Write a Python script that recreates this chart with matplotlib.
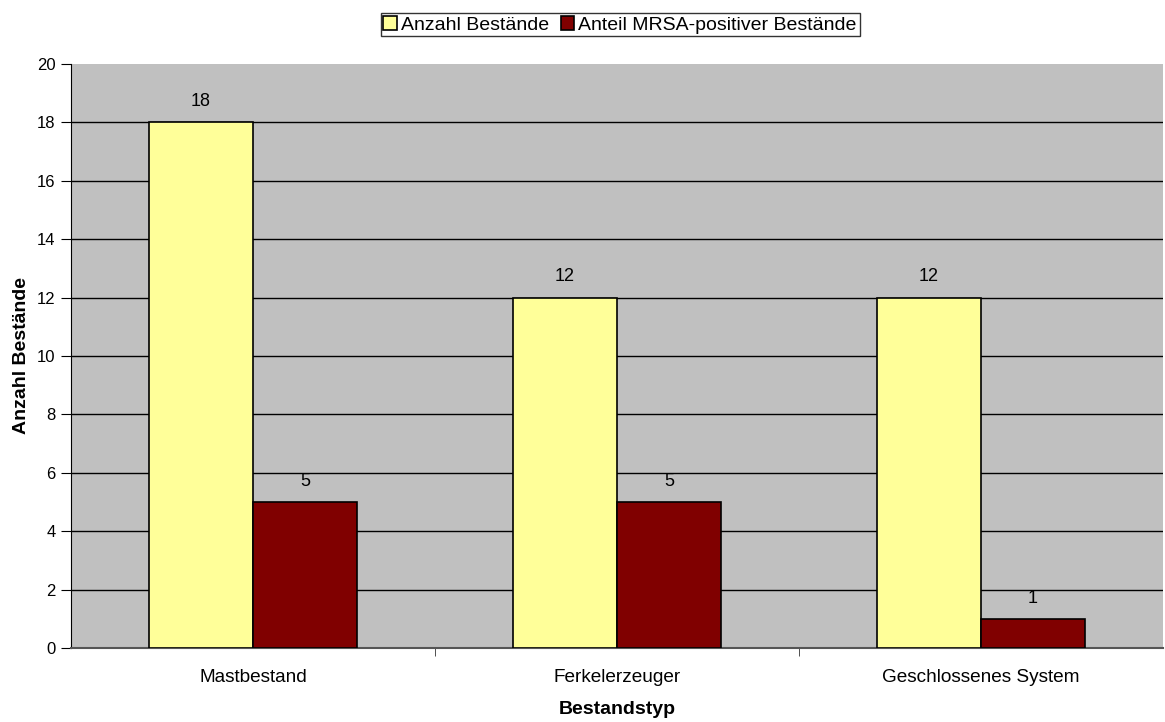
import matplotlib.pyplot as plt
import numpy as np

plt.rcParams['font.family'] = ['Liberation Sans', 'DejaVu Sans']

categories = ['Mastbestand', 'Ferkelerzeuger', 'Geschlossenes System']
anzahl = [18, 12, 12]
mrsa = [5, 5, 1]
series_names = ['Anzahl Bestände', 'Anteil MRSA-positiver Bestände']

fig = plt.figure(figsize=(11.65, 7.22), dpi=100)
ax = fig.add_axes([71 / 1165, 74 / 722, 1092 / 1165, 584 / 722])
ax.set_facecolor('#C0C0C0')

x = np.arange(len(categories))
w = 104 / 364
b1 = ax.bar(x - w / 2, anzahl, w, color='#FFFF99', edgecolor='black', linewidth=1.2,
            label=series_names[0], zorder=3)
b2 = ax.bar(x + w / 2, mrsa, w, color='#800000', edgecolor='black', linewidth=1.2,
            label=series_names[1], zorder=3)

for bars in (b1, b2):
    for r in bars:
        ax.text(r.get_x() + r.get_width() / 2, r.get_height() + 0.42, str(int(r.get_height())),
                ha='center', va='bottom', fontsize=13)

ax.set_xlim(-0.5, 2.5)
ax.set_ylim(0, 20)
ax.set_yticks(range(0, 21, 2))
ax.yaxis.grid(True, color='black', linewidth=1)
ax.get_ygridlines()[-1].set_visible(False)
ax.set_axisbelow(True)

ax.set_xticks(x)
ax.set_xticklabels(categories, fontsize=13.7)
ax.tick_params(axis='x', length=0, pad=15)
ax.set_xticks([0.5, 1.5], minor=True)
ax.tick_params(axis='x', which='minor', length=6, direction='out', color='#333333')
ax.tick_params(axis='y', length=7, direction='out', labelsize=12, pad=4)

for s in ('top', 'right'):
    ax.spines[s].set_visible(False)
ax.spines['left'].set_color('black')
ax.spines['bottom'].set_color('#555555')
ax.spines['bottom'].set_linewidth(1.5)

ax.set_xlabel('Bestandstyp', fontsize=14, fontweight='bold', labelpad=11)
ax.set_ylabel('Anzahl Bestände', fontsize=14, fontweight='bold', labelpad=5)

fig.legend(loc='upper center', bbox_to_anchor=(620 / 1165, 1 - 13 / 722), ncol=2,
           fontsize=14, frameon=True, fancybox=False, edgecolor='black',
           handlelength=0.7, handleheight=0.7, handletextpad=0.2, columnspacing=0.6,
           borderpad=0.15, borderaxespad=0)

plt.savefig('out.png', dpi=100)
